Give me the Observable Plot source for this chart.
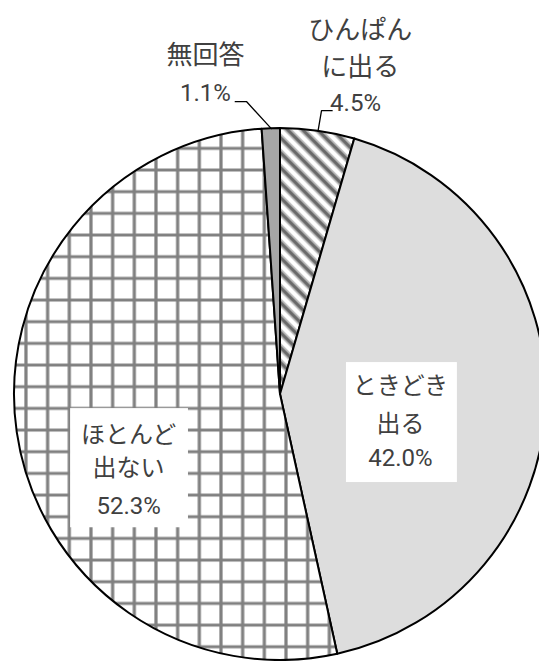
<!DOCTYPE html>
<html><head><meta charset="utf-8">
<script src="https://cdn.jsdelivr.net/npm/d3@7"></script>
<script src="https://cdn.jsdelivr.net/npm/@observablehq/plot@0.6"></script>
<style>html,body{margin:0;padding:0;background:#fff;} svg{display:block}</style>
</head><body><div id="chart"></div>
<script>
// ---- data ----
const categories = ["ひんぱんに出る", "ときどき出る", "ほとんど出ない", "無回答"];
const nameLines = [["ひんぱん", "に出る"], ["ときどき", "出る"], ["ほとんど", "出ない"], ["無回答"]];
const values = [4.5, 42.0, 52.3, 1.1];
const valueLabels = ["4.5%", "42.0%", "52.3%", "1.1%"];

// ---- layout ----
const W = 539, H = 661, R = 266, CX = 280, CY = 394;
const FONT = "'Noto Sans CJK JP', 'Noto Sans', sans-serif";
const NUMFONT = "'Liberation Sans Narrow', 'Roboto', sans-serif";
const TEXT = "#404040";

const rows = categories.map((c, i) => ({category: c, value: values[i], lines: nameLines[i], pct: valueLabels[i]}));
const arcs = d3.pie().sort(null).value(d => d.value)(rows);
const mid = arcs.map(a => (a.startAngle + a.endAngle) / 2);
const polar = (ang, r) => [r * Math.sin(ang), r * Math.cos(ang)];

const fills = ["url(#hatch)", "#dddddd", "url(#grid)", "#a6a6a6"];

function pieMark(index, scales) {
  const cx = scales.x(0), cy = scales.y(0), r = scales.x(1) - scales.x(0);
  const g = d3.create("svg:g");
  const defs = g.append("defs");
  // grid pattern
  const gs = 21.67;
  const gp = defs.append("pattern").attr("id", "grid").attr("patternUnits", "userSpaceOnUse")
    .attr("width", gs).attr("height", gs).attr("x", 6.0 - gs / 2).attr("y", 14.4 - gs / 2);
  gp.append("rect").attr("width", gs).attr("height", gs).attr("fill", "#fff");
  gp.append("path").attr("d", `M${gs/2},0V${gs}M0,${gs/2}H${gs}`).attr("stroke", "#808080").attr("stroke-width", 3.2);
  // hatch pattern
  const hs = 10.6;
  const hp = defs.append("pattern").attr("id", "hatch").attr("patternUnits", "userSpaceOnUse")
    .attr("width", hs).attr("height", hs).attr("patternTransform", "rotate(-45)");
  hp.append("rect").attr("width", hs).attr("height", hs).attr("fill", "#fff");
  hp.append("rect").attr("x", 0).attr("width", 3.0).attr("height", hs).attr("fill", "#6a6a6a");
  hp.append("rect").attr("x", 3.0).attr("width", 1.5).attr("height", hs).attr("fill", "#a8a8a8");
  hp.append("rect").attr("x", hs - 1.5).attr("width", 1.5).attr("height", hs).attr("fill", "#a8a8a8");

  const arc = d3.arc().innerRadius(0).outerRadius(r);
  g.append("g").attr("transform", `translate(${cx},${cy})`)
    .selectAll("path").data(arcs).join("path")
    .attr("d", arc).attr("fill", (d, i) => fills[i])
    .attr("stroke", "#000").attr("stroke-width", 2).attr("stroke-linejoin", "round");
  return g.node();
}

// inside label boxes (pie units)
const boxes = [
  {x1: 0.248, x2: 0.665, y1: 0.120, y2: -0.331},
  {x1: -0.789, x2: -0.346, y1: -0.053, y2: -0.501}
];

// text lines
const nameTexts = [], pctTexts = [];
// inside labels
[[1, 0.451, [0.030, -0.113, -0.241]], [2, -0.571, [-0.154, -0.278, -0.421]]].forEach(([i, x, ys]) => {
  rows[i].lines.forEach((s, k) => nameTexts.push({x, y: ys[k], text: s, size: 24}));
  pctTexts.push({x, y: ys[ys.length - 1], text: rows[i].pct, size: 24});
});
// outside labels
[
  {i: 0, x: 0.300, ys: [1.368, 1.229], px: 0.282, py: 1.094},
  {i: 3, x: -0.282, ys: [1.274], px: -0.282, py: 1.131}
].forEach(o => {
  rows[o.i].lines.forEach((s, k) => nameTexts.push({x: o.x, y: o.ys[k], text: s, size: 26}));
  pctTexts.push({x: o.px, y: o.py, text: rows[o.i].pct, size: 24});
});

// leader lines: from arc midpoint, elbow, horizontal tail
const leaders = [];
{
  const a0 = mid[0];
  const p0 = polar(a0, 1.0), p1 = polar(a0 + 0.002, 1.078);
  leaders.push({id: 0, pts: [p0, p1, [p1[0] + 0.04, p1[1]]]});
  const a3 = mid[3];
  const q0 = polar(a3, 1.0), q1 = polar(-0.115, 1.108);
  leaders.push({id: 3, pts: [q0, q1, [q1[0] - 0.043, q1[1]]]});
}
const leaderPts = leaders.flatMap(l => l.pts.map(p => ({id: l.id, x: p[0], y: p[1]})));

const plot = Plot.plot({
  width: W, height: H,
  margin: 0,
  x: {domain: [-CX / R, (W - CX) / R], axis: null},
  y: {domain: [-(H - CY) / R, CY / R], axis: null},
  style: {background: "#fff", fontFamily: FONT},
  marks: [
    pieMark,
    Plot.rect(boxes, {x1: "x1", x2: "x2", y1: "y1", y2: "y2", fill: "#fff"}),
    Plot.line(leaderPts, {x: "x", y: "y", z: "id", stroke: "#000", strokeWidth: 1.3}),
    Plot.text(nameTexts.filter(d => d.size === 24), {x: "x", y: "y", text: "text", fill: TEXT, fontSize: 24, fontFamily: FONT, textAnchor: "middle"}),
    Plot.text(nameTexts.filter(d => d.size === 26), {x: "x", y: "y", text: "text", fill: TEXT, fontSize: 26, fontFamily: FONT, textAnchor: "middle"}),
    Plot.text(pctTexts, {x: "x", y: "y", text: "text", fill: TEXT, fontSize: 24, fontFamily: NUMFONT, textAnchor: "middle"})
  ]
});
document.getElementById("chart").append(plot);
</script>
</body></html>
